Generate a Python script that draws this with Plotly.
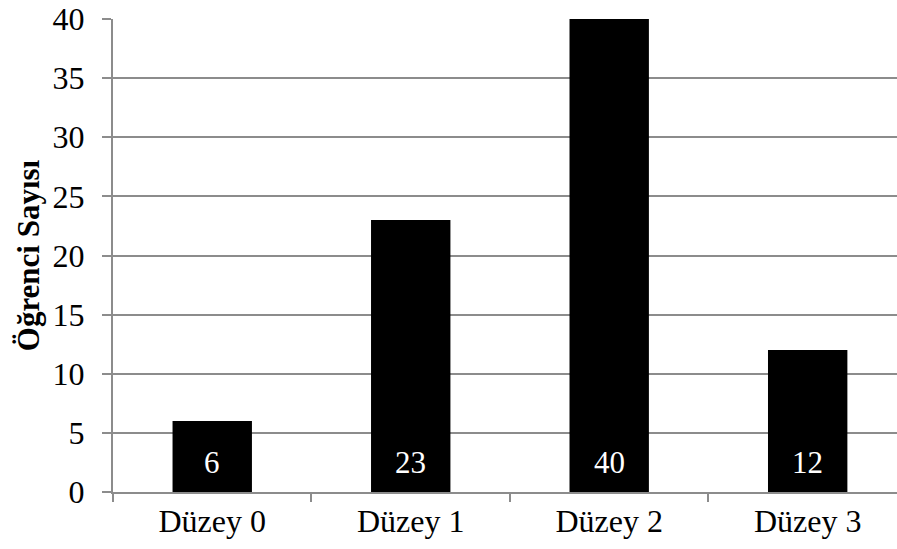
import plotly.graph_objects as go

# Öğrenci dağılımı düzeylere göre
categories = ["Düzey 0", "Düzey 1", "Düzey 2", "Düzey 3"]
counts = [6, 23, 40, 12]
y_ticks = [0, 5, 10, 15, 20, 25, 30, 35, 40]

FONT = "Liberation Serif, Times New Roman, serif"
GRID = "#8c8c8c"

fig = go.Figure()
fig.add_trace(go.Bar(
    x=categories,
    y=counts,
    marker=dict(color="black", line=dict(width=0)),
    hoverinfo="x+y",
))

# Value labels sitting at the base of each bar
for cat, v in zip(categories, counts):
    fig.add_annotation(
        x=cat, y=0, text=str(v), showarrow=False,
        yanchor="bottom", yshift=10,
        font=dict(family=FONT, size=31, color="white"),
    )

fig.update_layout(
    width=897, height=549,
    margin=dict(l=113, r=0, t=19, b=57),
    paper_bgcolor="white", plot_bgcolor="white",
    bargap=0.6,
    showlegend=False,
    font=dict(family=FONT, size=32, color="black"),
)

fig.update_xaxes(
    type="category",
    range=[-0.5, 3.45],
    showline=True, linecolor=GRID, linewidth=2,
    ticks="outside", tickson="boundaries", ticklen=8, tickcolor=GRID, tickwidth=2,
    showgrid=False,
    tickfont=dict(family=FONT, size=32, color="black"),
)

fig.update_yaxes(
    range=[0, 40],
    tickvals=y_ticks,
    showline=True, linecolor=GRID, linewidth=2,
    ticks="outside", ticklen=9, tickcolor=GRID, tickwidth=2,
    ticklabelstandoff=11,
    showgrid=True, gridcolor=GRID, gridwidth=2,
    zeroline=False,
    tickfont=dict(family=FONT, size=32, color="black"),
    title=dict(text="<b>Öğrenci Sayısı</b>", standoff=4,
               font=dict(family=FONT, size=31, color="black")),
)

fig.write_html("out.html")
